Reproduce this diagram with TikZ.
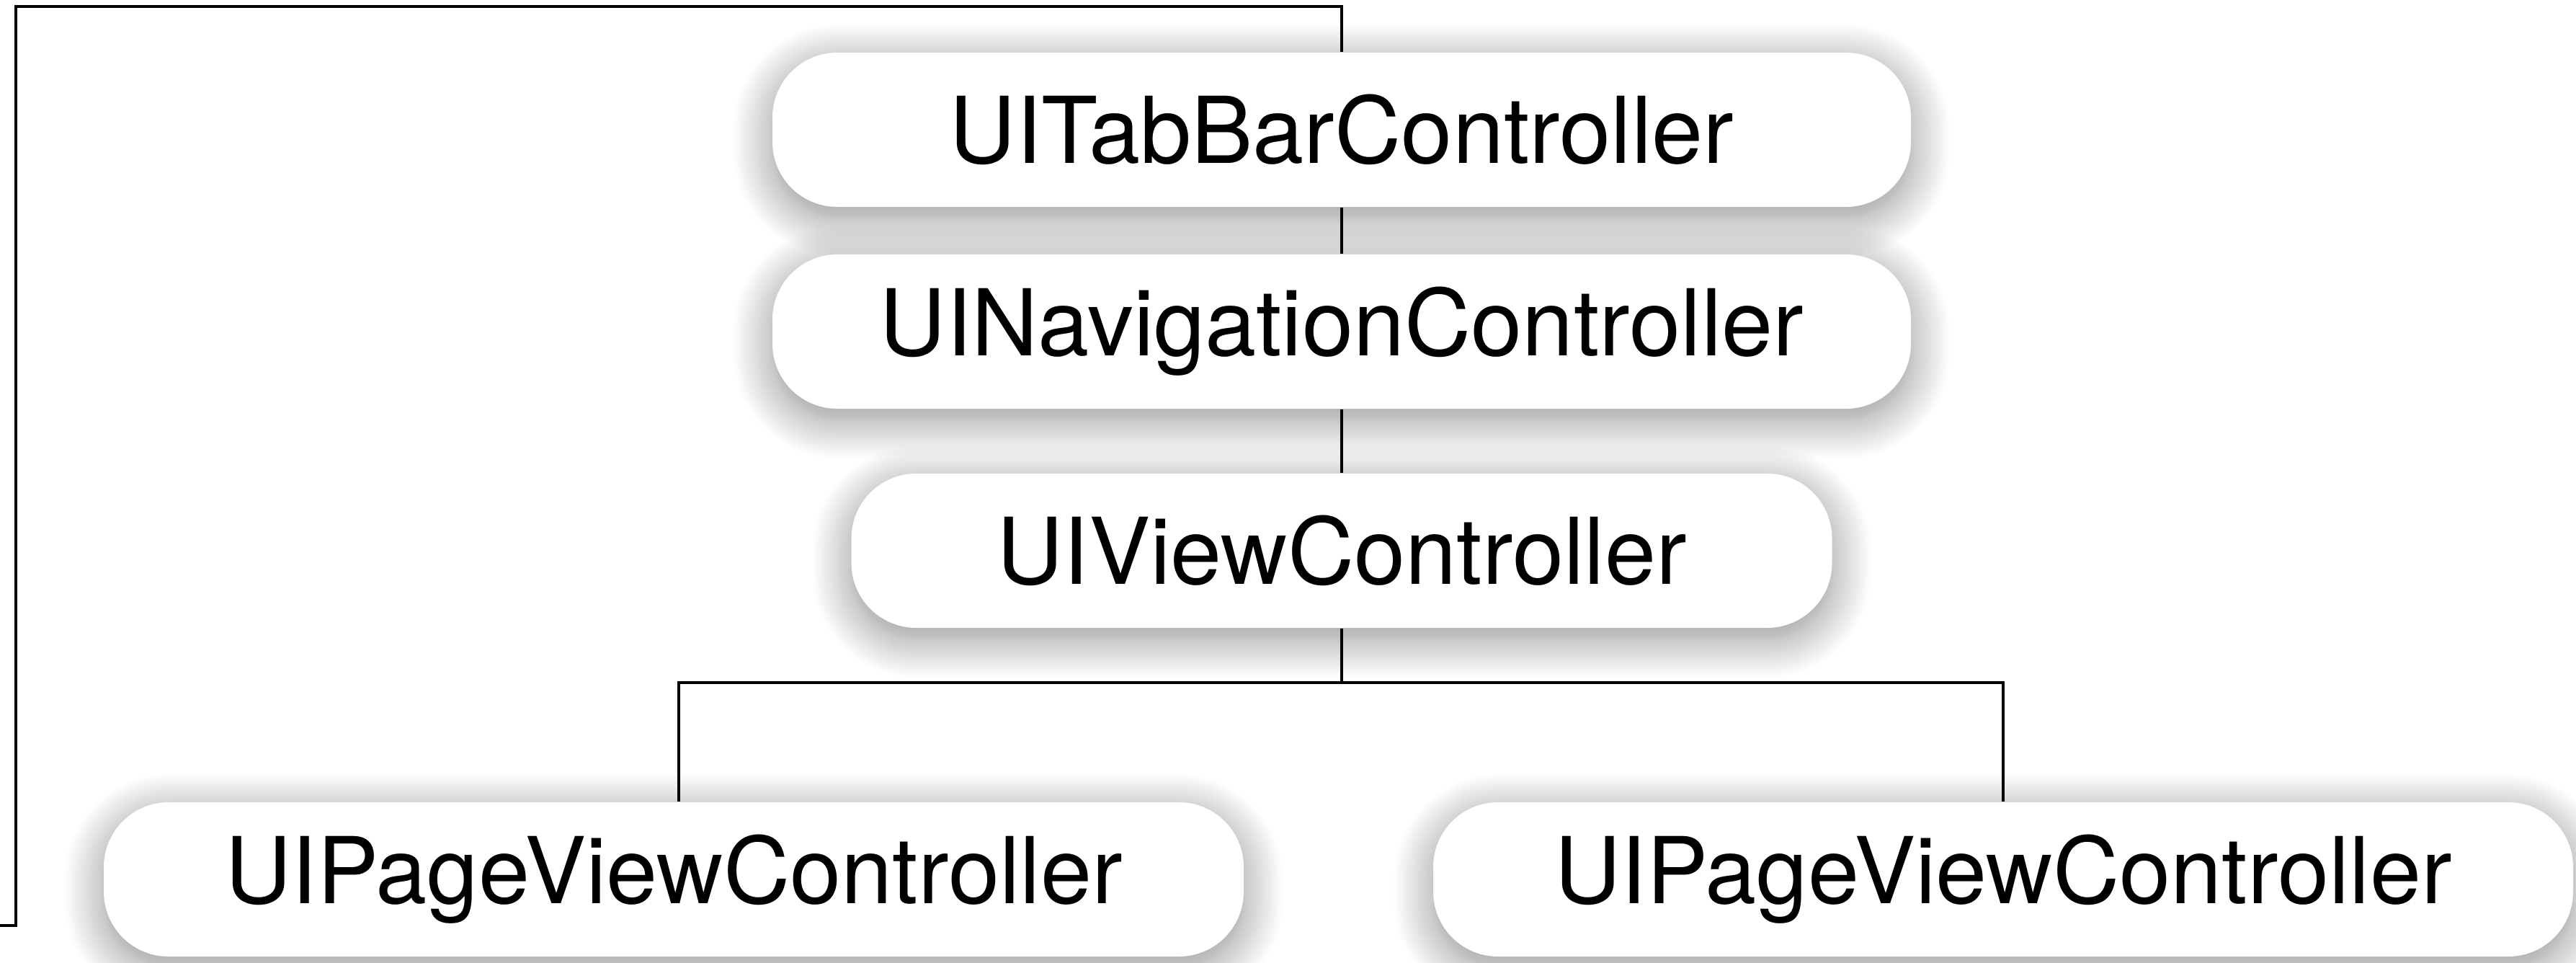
\documentclass[tikz,border=0pt]{standalone}
\usepackage{fontspec}
\setmainfont{TeX Gyre Heros}
\usetikzlibrary{shadows.blur}
\begin{document}
\begin{tikzpicture}[
		ctrl/.style={fill=white,rounded corners=0.9cm,minimum height=2.14cm,inner sep=0pt,
			font=\fontsize{36.4}{42}\selectfont,
			blur shadow={shadow xshift=0cm,shadow yshift=-0.15cm,shadow blur radius=0.55cm,
				shadow blur steps=20,shadow opacity=45}},
		wire/.style={line width=1.1pt}]
		\useasboundingbox (0,0) rectangle (35.75,-13.35);
		
		\node[ctrl,minimum width=15.8cm] (tab) at (18.62,-1.80) {UITabBarController};
		\node[ctrl,minimum width=15.8cm] (nav) at (18.62,-4.60) {UINavigationController};
		\node[ctrl,minimum width=13.61cm] (view) at (18.62,-7.64) {UIViewController};
		\node[ctrl,minimum width=15.82cm] (pageL) at (9.35,-12.20) {UIPageViewController};
		\node[ctrl,minimum width=15.82cm] (pageR) at (27.80,-12.20) {UIPageViewController};
		
		\draw[wire] (tab.south) to (nav.north);
		\draw[wire] (nav.south) to (view.north);
		
		% branche vers les pages
		\coordinate (bus) at (18.62,-9.47);
		\coordinate (busL) at (9.42,-9.47);
		\draw[wire] (view.south) to (bus);
		\draw[wire] (busL |- pageL.north) |- (bus) -| (pageR.north);
		
		% retour par la gauche
		\coordinate (loopTL) at (0.22,-0.09);
		\coordinate (loopEnd) at (0,-12.84);
		\draw[wire] (tab.north) |- (loopTL) |- (loopEnd);
	\end{tikzpicture}
\end{document}
